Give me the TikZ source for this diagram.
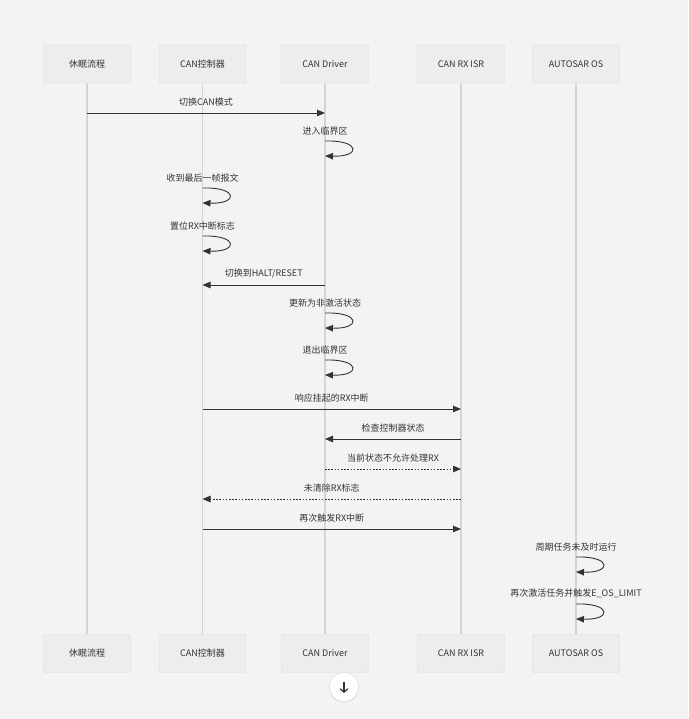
\documentclass[tikz,border=0pt]{standalone}
\usepackage{fontspec}
\setmainfont{Noto Sans CJK SC}
\usepackage{tikz}
\usetikzlibrary{arrows.meta,shadows}
\definecolor{PageGray}{HTML}{F3F3F3}
\definecolor{BoxGray}{HTML}{EDEDED}
\definecolor{BoxLine}{HTML}{D9D9D9}
\definecolor{LifeGray}{HTML}{D4D4D4}
\definecolor{InkGray}{HTML}{333333}

\begin{document}
\begin{tikzpicture}[
      x=1pt, y=-1pt,
      every node/.style={align=center, font=\fontsize{9}{11}\selectfont, text=InkGray},
      actor/.style={draw=BoxLine, fill=BoxGray, rounded corners=2pt, minimum width=87pt, minimum height=38pt},
      lifeline/.style={LifeGray, line width=1.4pt},
      msg/.style={InkGray, line width=0.9pt, -{Triangle[length=8pt,width=6.5pt]}},
      reply/.style={msg, dash pattern=on 1.6pt off 1.6pt},
      selfmsg/.style={InkGray, line width=0.9pt, -{Triangle[length=8pt,width=6.5pt]}},
      lbl/.style={inner sep=1pt}
    ]
      \fill[PageGray] (0,0) rectangle (688,719);
      \useasboundingbox (0,0) rectangle (688,719);

      % Participants (top)
      \node[actor] (sleep)  at (87,64)  {休眠流程};
      \node[actor] (ctrl)   at (202.5,64) {CAN控制器};
      \node[actor] (drv)    at (325,64) {CAN Driver};
      \node[actor] (isr)    at (461,64) {CAN RX ISR};
      \node[actor] (os)     at (576,64) {AUTOSAR OS};

      % Participants (bottom)
      \node[actor] (sleepB) at (87,653.5)  {休眠流程};
      \node[actor] (ctrlB)  at (202.5,653.5) {CAN控制器};
      \node[actor] (drvB)   at (325,653.5) {CAN Driver};
      \node[actor] (isrB)   at (461,653.5) {CAN RX ISR};
      \node[actor] (osB)    at (576,653.5) {AUTOSAR OS};

      % Lifelines
      \draw[lifeline] (sleep) -- (sleepB);
      \draw[lifeline] (ctrl) -- (ctrlB);
      \draw[lifeline] (drv) -- (drvB);
      \draw[lifeline] (isr) -- (isrB);
      \draw[lifeline] (os) -- (osB);

      % Message rows
      \coordinate (r1)  at (0,113);
      \coordinate (r2)  at (0,141);
      \coordinate (r3)  at (0,188);
      \coordinate (r4)  at (0,236);
      \coordinate (r5)  at (0,285);
      \coordinate (r6)  at (0,313);
      \coordinate (r7)  at (0,360);
      \coordinate (r8)  at (0,409);
      \coordinate (r9)  at (0,439);
      \coordinate (r10) at (0,469);
      \coordinate (r11) at (0,499);
      \coordinate (r12) at (0,529);
      \coordinate (r13) at (0,557);
      \coordinate (r14) at (0,604);

      % Messages
      \draw[msg] (sleep|-r1) -- node[lbl, above=5pt] {切换CAN模式} (drv|-r1);
      \draw[selfmsg] (drv|-r2) .. controls +(36,-1) and +(36,1) .. ++(0,15);
      \node[lbl, above=5pt] at (drv|-r2) {进入临界区};
      \draw[selfmsg] (ctrl|-r3) .. controls +(36,-1) and +(36,1) .. ++(0,15);
      \node[lbl, above=5pt] at (ctrl|-r3) {收到最后一帧报文};
      \draw[selfmsg] (ctrl|-r4) .. controls +(36,-1) and +(36,1) .. ++(0,15);
      \node[lbl, above=5pt] at (ctrl|-r4) {置位RX中断标志};
      \draw[msg] (drv|-r5) -- node[lbl, above=5pt] {切换到HALT/RESET} (ctrl|-r5);
      \draw[selfmsg] (drv|-r6) .. controls +(36,-1) and +(36,1) .. ++(0,15);
      \node[lbl, above=5pt] at (drv|-r6) {更新为非激活状态};
      \draw[selfmsg] (drv|-r7) .. controls +(36,-1) and +(36,1) .. ++(0,15);
      \node[lbl, above=5pt] at (drv|-r7) {退出临界区};
      \draw[msg] (ctrl|-r8) -- node[lbl, above=5pt] {响应挂起的RX中断} (isr|-r8);
      \draw[msg] (isr|-r9) -- node[lbl, above=5pt] {检查控制器状态} (drv|-r9);
      \draw[reply] (drv|-r10) -- node[lbl, above=5pt] {当前状态不允许处理RX} (isr|-r10);
      \draw[reply] (isr|-r11) -- node[lbl, above=5pt] {未清除RX标志} (ctrl|-r11);
      \draw[msg] (ctrl|-r12) -- node[lbl, above=5pt] {再次触发RX中断} (isr|-r12);
      \draw[selfmsg] (os|-r13) .. controls +(36,-1) and +(36,1) .. ++(0,15);
      \node[lbl, above=5pt] at (os|-r13) {周期任务未及时运行};
      \draw[selfmsg] (os|-r14) .. controls +(36,-1) and +(36,1) .. ++(0,15);
      \node[lbl, above=5pt] at (os|-r14) {再次激活任务并触发E\_OS\_LIMIT};

      % Scroll button
      \node[circle, fill=white, draw=BoxLine, minimum size=29pt,
            drop shadow={opacity=0.15, shadow xshift=0pt, shadow yshift=-1pt}] (more) at (344,687) {};
      \draw[InkGray, line width=1.2pt, -{Straight Barb[length=3.5pt,width=8pt]}] ([yshift=5.5pt]more.center) -- ([yshift=-6pt]more.center);

    \end{tikzpicture}
\end{document}
